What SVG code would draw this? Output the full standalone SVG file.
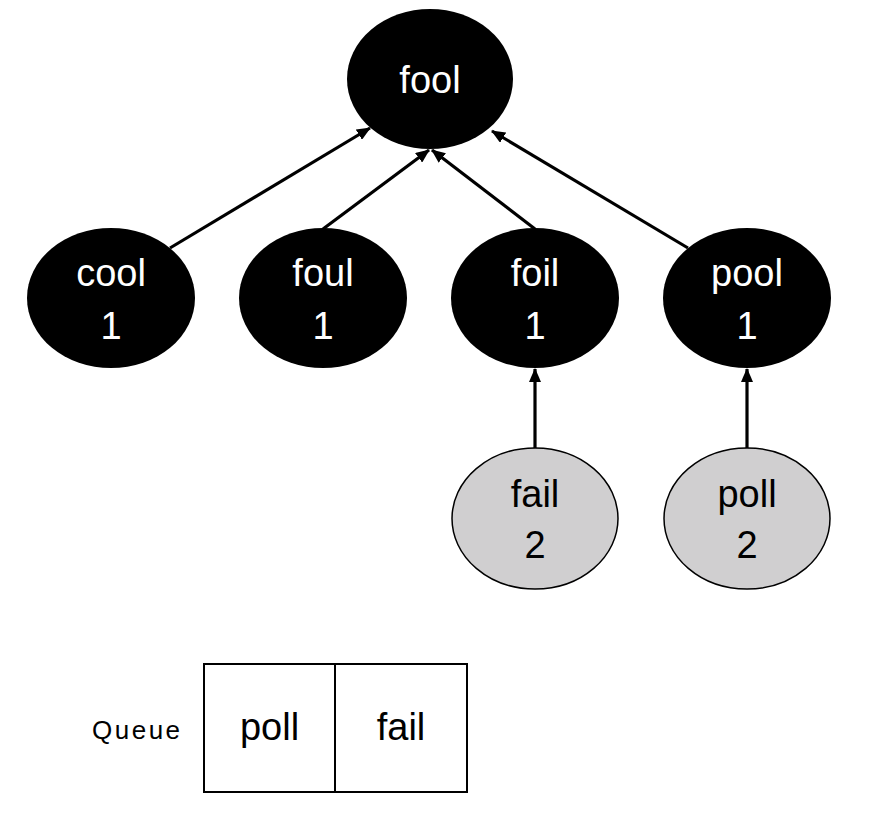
<svg xmlns="http://www.w3.org/2000/svg" width="870" height="814" viewBox="0 0 870 814">
<style>
.dark{fill:#000;}
.light{fill:#d0cfd0;stroke:#000;stroke-width:1.5;}
.t{font-family:"Liberation Sans",Arial,sans-serif;font-size:38px;text-anchor:middle;}
.w{fill:#fff;}
.k{fill:#000;}
.edge{stroke:#000;stroke-width:3.2;fill:none;marker-end:url(#arr);}
.box{fill:#fff;stroke:#000;stroke-width:2;}
</style>
<defs>
<marker id="arr" markerUnits="userSpaceOnUse" markerWidth="14" markerHeight="12" refX="13" refY="6" orient="auto">
<path d="M0,0 L14,6 L0,12 z" fill="#000"/>
</marker>
</defs>
<rect width="870" height="814" fill="#fff"/>
<g id="connectors">
<line class="edge" x1="170" y1="248" x2="370" y2="128"/>
<line class="edge" x1="323" y1="229" x2="429" y2="150"/>
<line class="edge" x1="535" y1="229" x2="432" y2="150"/>
<line class="edge" x1="688" y1="248" x2="492" y2="131"/>
<line class="edge" x1="535" y1="448" x2="535" y2="369"/>
<line class="edge" x1="747" y1="448" x2="747" y2="369"/>
</g>
<g id="fool">
<ellipse class="dark" cx="430" cy="79" rx="83" ry="70"/>
<text class="t w" x="430" y="93">fool</text>
</g>
<g id="cool">
<ellipse class="dark" cx="111" cy="298" rx="84" ry="70"/>
<text class="t w" x="111" y="286">cool</text>
<text class="t w" x="111" y="339">1</text>
</g>
<g id="foul">
<ellipse class="dark" cx="323" cy="298" rx="84" ry="70"/>
<text class="t w" x="323" y="286">foul</text>
<text class="t w" x="323" y="339">1</text>
</g>
<g id="foil">
<ellipse class="dark" cx="535" cy="298" rx="84" ry="70"/>
<text class="t w" x="535" y="286">foil</text>
<text class="t w" x="535" y="339">1</text>
</g>
<g id="pool">
<ellipse class="dark" cx="747" cy="298" rx="84" ry="70"/>
<text class="t w" x="747" y="286">pool</text>
<text class="t w" x="747" y="339">1</text>
</g>
<g id="fail">
<ellipse class="light" cx="535" cy="518.5" rx="83" ry="70.5"/>
<text class="t k" x="535" y="507">fail</text>
<text class="t k" x="535" y="558">2</text>
</g>
<g id="poll">
<ellipse class="light" cx="747" cy="518.5" rx="83" ry="70.5"/>
<text class="t k" x="747" y="507">poll</text>
<text class="t k" x="747" y="558">2</text>
</g>
<g id="queue">
<text x="92" y="739" font-family="Liberation Sans, Arial, sans-serif" font-size="26" letter-spacing="2.5">Queue</text>
<rect class="box" x="204" y="664" width="263" height="128"/>
<line x1="335" y1="664" x2="335" y2="792" stroke="#000" stroke-width="2"/>
<text class="t k" x="269.5" y="740">poll</text>
<text class="t k" x="401" y="740">fail</text>
</g>
</svg>
